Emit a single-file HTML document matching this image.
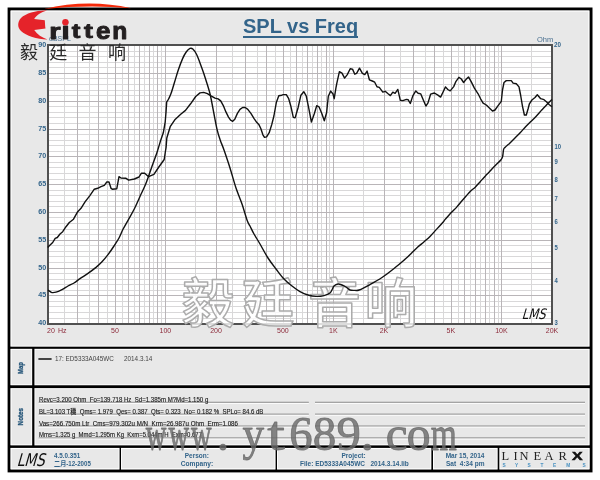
<!DOCTYPE html>
<html><head><meta charset="utf-8"><style>
html,body{margin:0;padding:0;background:#fff;width:600px;height:480px;overflow:hidden}
svg{display:block}
text{font-family:"Liberation Sans","Noto Sans CJK SC",sans-serif}
</style></head><body>
<svg width="600" height="480" viewBox="0 0 600 480">
<rect x="0" y="0" width="600" height="480" fill="#fff"/>
<rect x="9.1" y="9" width="581.9" height="461.9" fill="#e8e8e8" stroke="#000" stroke-width="3"/>
<g fill="none" stroke="#fff" stroke-width="1">
<rect x="11.1" y="11.1" width="577.7" height="335.1"/>
<rect x="11.1" y="349.3" width="20.7" height="35.5"/>
<rect x="34.9" y="349.3" width="554" height="35.5"/>
<rect x="11.1" y="388.6" width="20.7" height="56.3"/>
<rect x="34.9" y="388.6" width="554" height="56.3"/>
<rect x="11.1" y="448.5" width="108" height="20.3"/>
<rect x="121.3" y="448.5" width="153.8" height="20.3"/>
<rect x="277.5" y="448.5" width="153.4" height="20.3"/>
<rect x="433.5" y="448.5" width="63.7" height="20.3"/>
<rect x="499.8" y="448.5" width="89.2" height="20.3"/>
</g>
<g fill="#000">
<rect x="9" y="346.7" width="582" height="2.1"/>
<rect x="9" y="385.3" width="582" height="2.8"/>
<rect x="9" y="445.4" width="582" height="2.5"/>
<rect x="32.2" y="347" width="2.2" height="99"/>
<rect x="119.6" y="446" width="1.4" height="24"/>
<rect x="275.6" y="446" width="1.4" height="24"/>
<rect x="431.4" y="446" width="1.6" height="24"/>
<rect x="497.7" y="446" width="1.6" height="24"/>
</g>

<!-- plot -->
<rect x="48" y="45" width="504" height="279" fill="#fff"/>
<path d="M64.5 45V324 M89.5 45V324 M107.5 45V324 M122.5 45V324 M134.5 45V324 M144.5 45V324 M153.5 45V324 M161.5 45V324 M195.5 45V324 M232.5 45V324 M257.5 45V324 M275.5 45V324 M290.5 45V324 M302.5 45V324 M312.5 45V324 M321.5 45V324 M329.5 45V324 M363.5 45V324 M400.5 45V324 M425.5 45V324 M443.5 45V324 M458.5 45V324 M470.5 45V324 M480.5 45V324 M489.5 45V324 M498.5 45V324 M531.5 45V324 M48 318.5H552 M48 312.5H552 M48 306.5H552 M48 301.5H552 M48 290.5H552 M48 284.5H552 M48 279.5H552 M48 273.5H552 M48 262.5H552 M48 256.5H552 M48 251.5H552 M48 245.5H552 M48 234.5H552 M48 229.5H552 M48 223.5H552 M48 217.5H552 M48 206.5H552 M48 201.5H552 M48 195.5H552 M48 190.5H552 M48 179.5H552 M48 173.5H552 M48 167.5H552 M48 162.5H552 M48 151.5H552 M48 145.5H552 M48 140.5H552 M48 134.5H552 M48 123.5H552 M48 117.5H552 M48 112.5H552 M48 106.5H552 M48 95.5H552 M48 90.5H552 M48 84.5H552 M48 78.5H552 M48 67.5H552 M48 62.5H552 M48 56.5H552 M48 51.5H552" stroke="#d9d8d9" stroke-width="1" fill="none"/>
<path d="M77.5 45V324 M98.5 45V324 M115.5 45V324 M128.5 45V324 M139.5 45V324 M149.5 45V324 M157.5 45V324 M165.5 45V324 M216.5 45V324 M245.5 45V324 M266.5 45V324 M283.5 45V324 M296.5 45V324 M307.5 45V324 M317.5 45V324 M326.5 45V324 M333.5 45V324 M384.5 45V324 M413.5 45V324 M434.5 45V324 M451.5 45V324 M464.5 45V324 M475.5 45V324 M485.5 45V324 M494.5 45V324 M501.5 45V324 M48 295.5H552 M48 268.5H552 M48 240.5H552 M48 212.5H552 M48 184.5H552 M48 156.5H552 M48 129.5H552 M48 101.5H552 M48 73.5H552" stroke="#b9b5b8" stroke-width="1" fill="none"/>

<rect x="48" y="45" width="504" height="279" fill="none" stroke="#505050" stroke-width="2"/>

<!-- watermark chinese -->
<g fill="rgba(255,255,255,0.8)" stroke="#acacac" stroke-width="1.5" stroke-linejoin="round" font-size="53" font-weight="500" style="font-family:'Liberation Serif','Noto Serif CJK SC',serif" text-anchor="middle">
<text x="208" y="323">毅</text><text x="268" y="323">廷</text><text x="334.5" y="323">音</text><text x="391" y="323">响</text>
</g>
<g fill="#33648a" font-size="7.4" font-weight="bold" text-anchor="end"><text transform="translate(46.3 325.2) scale(0.97 1)">40</text><text transform="translate(46.3 297.4) scale(0.97 1)">45</text><text transform="translate(46.3 269.6) scale(0.97 1)">50</text><text transform="translate(46.3 241.8) scale(0.97 1)">55</text><text transform="translate(46.3 214.0) scale(0.97 1)">60</text><text transform="translate(46.3 186.2) scale(0.97 1)">65</text><text transform="translate(46.3 158.4) scale(0.97 1)">70</text><text transform="translate(46.3 130.6) scale(0.97 1)">75</text><text transform="translate(46.3 102.8) scale(0.97 1)">80</text><text transform="translate(46.3 75.0) scale(0.97 1)">85</text><text transform="translate(46.3 47.2) scale(0.97 1)">90</text></g>
<g fill="#33648a" font-size="7.4" font-weight="bold"><text transform="translate(554.4 325.2) scale(0.8 1)">3</text><text transform="translate(554.4 283.0) scale(0.8 1)">4</text><text transform="translate(554.4 250.3) scale(0.8 1)">5</text><text transform="translate(554.4 223.6) scale(0.8 1)">6</text><text transform="translate(554.4 201.0) scale(0.8 1)">7</text><text transform="translate(554.4 181.5) scale(0.8 1)">8</text><text transform="translate(554.4 164.2) scale(0.8 1)">9</text><text transform="translate(554.4 148.8) scale(0.8 1)">10</text><text transform="translate(554 46.8) scale(0.85 1)">20</text></g>
<text x="537" y="41.8" fill="#4a7090" font-size="7.5">Ohm</text>
<g fill="#8c2a3a" font-size="7" text-anchor="middle"><text x="114.9" y="332.5">50</text><text x="165.4" y="332.5">100</text><text x="216.0" y="332.5">200</text><text x="282.9" y="332.5">500</text><text x="333.4" y="332.5">1K</text><text x="384.0" y="332.5">2K</text><text x="450.9" y="332.5">5K</text><text x="501.4" y="332.5">10K</text><text x="552.0" y="332.5">20K</text></g>
<text x="47" y="332.5" fill="#8c2a3a" font-size="7">20</text>
<text x="58" y="332.5" fill="#8c2a3a" font-size="7">Hz</text>

<!-- curves -->
<path d="M48.0 290.0 C48.3 290.2 49.3 291.0 50.0 291.4 C50.7 291.8 51.0 292.5 52.0 292.6 C53.0 292.7 54.3 292.7 56.0 292.2 C57.7 291.7 60.0 290.6 62.0 289.6 C64.0 288.6 66.0 287.1 68.0 286.0 C70.0 284.9 72.0 284.2 74.0 283.0 C76.0 281.8 77.7 280.2 80.0 278.6 C82.3 277.0 85.3 275.3 88.0 273.4 C90.7 271.5 93.7 269.3 96.0 267.4 C98.3 265.4 100.0 263.8 102.0 261.7 C104.0 259.6 106.0 257.2 108.0 254.6 C110.0 252.0 112.2 248.8 114.0 246.0 C115.8 243.2 117.5 240.8 119.0 238.0 C120.5 235.2 121.4 232.5 123.0 229.3 C124.6 226.2 126.8 222.5 128.7 219.1 C130.6 215.7 132.5 212.6 134.4 208.8 C136.3 205.0 138.2 200.4 140.1 196.2 C142.0 192.0 144.0 188.4 145.9 183.6 C147.8 178.8 149.7 172.8 151.6 167.5 C153.5 162.2 155.8 156.1 157.3 151.5 C158.8 146.9 160.2 141.9 160.8 140.0 L160.8 140.0 L163.3 132.8 L165.2 122.0 L166.1 111.0 L166.7 102.0 L166.7 102.0 C167.0 101.5 168.0 100.1 168.7 98.7 C169.4 97.3 170.0 96.4 171.0 93.6 C172.0 90.8 173.4 85.9 174.6 82.0 C175.8 78.1 176.9 74.2 178.2 70.3 C179.5 66.4 181.3 61.6 182.6 58.6 C183.9 55.6 185.0 53.7 186.2 52.0 C187.4 50.3 188.9 48.9 190.0 48.4 C191.1 47.9 191.7 48.0 192.8 49.0 C193.9 50.0 195.3 51.9 196.5 54.2 C197.7 56.5 198.8 59.8 200.0 63.0 C201.2 66.2 202.5 69.6 203.7 73.2 C204.9 76.8 206.3 81.2 207.4 84.8 C208.5 88.4 209.2 90.1 210.3 95.0 C211.4 99.9 212.9 108.2 214.0 114.0 C215.1 119.8 216.1 125.3 217.1 129.6 C218.1 133.9 219.0 136.6 220.2 140.0 C221.3 143.4 222.4 145.3 224.0 150.0 C225.6 154.7 228.0 161.7 230.0 168.0 C232.0 174.3 234.0 182.0 236.0 188.0 C238.0 194.0 240.2 198.7 242.0 204.0 C243.8 209.3 245.7 216.3 247.0 220.0 C248.3 223.7 248.8 223.7 250.0 226.0 C251.2 228.3 252.3 231.0 254.0 234.0 C255.7 237.0 257.7 240.0 260.0 244.0 C262.3 248.0 265.3 253.8 268.0 258.0 C270.7 262.2 273.3 265.5 276.0 269.0 C278.7 272.5 281.3 276.2 284.0 279.0 C286.7 281.8 289.3 283.9 292.0 286.0 C294.7 288.1 297.3 290.1 300.0 291.6 C302.7 293.1 305.3 294.2 308.0 295.0 C310.7 295.8 313.3 296.3 316.0 296.4 C318.7 296.5 321.7 296.2 324.0 295.6 C326.3 295.0 328.6 294.1 330.0 293.0 C331.4 291.9 331.7 290.2 332.4 289.0 C333.1 287.8 333.1 286.8 334.0 286.0 C334.9 285.2 336.7 284.2 338.0 284.0 C339.3 283.8 340.7 284.5 342.0 285.0 C343.3 285.5 344.7 286.2 346.0 287.0 C347.3 287.8 348.5 289.4 350.0 290.0 C351.5 290.6 353.5 290.4 355.0 290.4 C356.5 290.4 356.8 290.9 359.2 290.0 C361.6 289.1 365.8 286.9 369.6 284.8 C373.4 282.7 377.8 280.3 382.0 277.5 C386.2 274.7 390.8 271.0 394.6 268.0 C398.4 265.0 402.2 261.7 405.0 259.3 C407.8 256.9 409.2 255.5 411.2 253.5 C413.3 251.5 415.4 249.2 417.5 247.3 C419.6 245.4 421.7 243.8 423.8 242.0 C425.8 240.2 427.9 238.5 430.0 236.4 C432.1 234.3 434.2 231.9 436.2 229.6 C438.3 227.3 441.0 224.5 442.5 222.8 C444.0 221.1 443.7 221.2 445.2 219.4 C446.7 217.7 449.6 214.4 451.5 212.3 C453.4 210.2 454.8 209.2 456.7 207.1 C458.6 205.0 460.6 202.4 462.9 199.8 C465.1 197.2 468.2 193.6 470.2 191.5 C472.2 189.4 473.3 189.0 475.0 187.4 C476.7 185.8 478.5 183.6 480.2 181.7 C481.9 179.8 484.0 177.4 485.4 175.9 C486.8 174.4 487.4 173.9 488.5 172.8 C489.6 171.7 490.5 170.5 491.7 169.2 C492.9 167.9 494.2 166.6 495.8 165.0 C497.4 163.4 499.9 161.2 501.0 159.8 C502.1 158.4 502.2 158.4 502.6 156.7 C503.0 155.0 503.2 151.0 503.6 149.4 C504.0 147.8 504.1 148.4 505.2 147.3 C506.3 146.2 508.3 144.5 510.0 142.9 C511.7 141.3 513.5 139.4 515.2 137.7 C516.9 136.0 518.7 134.3 520.4 132.5 C522.1 130.7 523.9 128.6 525.6 126.8 C527.3 125.0 529.1 123.3 530.8 121.6 C532.5 119.9 534.3 118.2 536.0 116.4 C537.7 114.6 539.5 112.5 541.2 110.6 C543.0 108.7 544.7 106.8 546.5 104.9 C548.3 103.0 551.1 100.3 552.0 99.4" stroke="#111" stroke-width="1.4" fill="none" stroke-linejoin="round"/>
<path d="M47.7 247.5 L49.3 245.8 L52.7 242.5 L55.2 238.3 L57.3 237.5 L60.0 234.0 L62.7 231.7 L66.0 226.7 L69.3 222.5 L73.5 219.2 L77.7 211.7 L81.0 208.3 L85.2 201.7 L89.7 195.8 L94.3 189.2 L97.7 188.3 L101.0 186.7 L104.3 185.3 L106.8 182.0 L109.0 182.0 L111.0 188.3 L112.3 189.2 L116.8 188.7 L119.0 176.7 L121.0 178.0 L126.0 178.3 L128.7 180.1 L134.4 179.0 L139.0 177.0 L141.3 173.3 L144.7 173.3 L148.6 176.7 L153.9 174.4 L158.5 167.5 L164.2 159.5 L165.4 151.5 L166.1 147.3 L166.8 138.0 L170.2 126.7 L174.8 119.8 L181.0 114.0 L185.5 110.4 L190.6 103.8 L195.7 96.5 L200.0 92.9 L203.7 92.4 L207.4 93.6 L211.0 95.8 L215.0 98.1 L218.1 98.9 L220.7 100.9 L223.3 105.6 L225.9 111.9 L228.5 117.1 L230.6 120.2 L232.7 121.3 L234.8 119.2 L237.4 113.4 L240.0 109.3 L242.6 107.5 L245.2 107.5 L247.8 109.3 L250.9 113.4 L254.1 118.6 L256.7 122.3 L258.8 124.4 L260.8 128.5 L262.9 134.8 L264.5 137.4 L266.6 136.9 L269.2 132.7 L271.8 124.4 L273.9 116.0 L276.4 102.2 L278.8 95.8 L281.7 95.2 L283.4 94.6 L286.3 94.6 L288.7 98.7 L291.0 106.8 L293.3 117.3 L295.1 117.9 L298.0 108.0 L300.9 95.2 L303.8 91.7 L306.2 95.8 L308.5 106.8 L311.4 122.0 L314.3 113.8 L316.7 105.7 L319.0 106.8 L321.9 113.8 L324.3 120.8 L326.6 112.7 L328.3 96.3 L330.7 91.1 L333.0 94.0 L334.2 98.7 L335.9 88.2 L336.8 83.3 L339.4 71.7 L342.0 73.1 L344.6 78.1 L347.3 74.6 L350.2 68.8 L352.5 69.1 L354.8 74.2 L356.6 73.4 L359.5 68.2 L362.4 73.4 L364.8 74.6 L367.1 71.1 L369.4 79.8 L372.3 81.0 L374.7 82.2 L377.0 86.8 L379.3 87.4 L382.8 92.1 L385.2 91.3 L388.1 93.8 L390.4 95.6 L392.8 92.1 L395.1 93.3 L397.8 89.4 L400.3 100.3 L402.9 100.6 L406.4 99.4 L408.2 99.8 L410.3 103.5 L412.8 95.9 L415.8 90.9 L418.1 93.2 L420.8 93.9 L423.3 100.0 L425.9 106.1 L428.0 102.9 L430.6 94.2 L434.4 93.0 L437.9 95.1 L440.6 97.1 L443.2 91.8 L445.5 86.9 L447.8 89.5 L450.2 90.9 L453.7 86.6 L456.0 81.3 L458.9 77.3 L461.3 79.0 L463.6 82.5 L465.9 79.6 L468.5 76.9 L471.3 81.9 L474.4 88.1 L478.1 93.8 L480.6 98.8 L483.1 103.1 L486.3 105.0 L489.4 108.1 L492.5 111.0 L495.0 110.0 L498.1 105.6 L501.3 101.3 L502.5 90.0 L504.0 82.5 L506.3 80.6 L511.3 80.6 L513.1 83.1 L516.3 83.8 L519.0 86.9 L520.6 95.0 L522.5 106.3 L524.4 115.0 L526.3 115.0 L528.1 108.8 L529.4 103.8 L531.9 100.0 L535.0 97.5 L537.3 94.7 L540.7 98.7 L544.0 99.7 L546.7 102.0 L549.3 104.7 L552.0 106.7" stroke="#111" stroke-width="1.4" fill="none" stroke-linejoin="round"/>

<!-- LMS in plot -->
<text x="0" y="0" fill="#111" font-size="14.5" transform="translate(521.5 318.6) skewX(-16) scale(0.8 1)" style="font-family:'DejaVu Sans',sans-serif">LMS</text>

<!-- title -->
<text x="300.6" y="33.4" fill="#33648a" font-size="20" font-weight="bold" text-anchor="middle">SPL vs Freq</text>
<rect x="243" y="36" width="115" height="2" fill="#33648a"/>

<text x="49" y="41" fill="#4a7090" font-size="7">dBSPL</text>
<!-- logo -->
<path d="M44.2,9 Q88,-1.5 131,8.2 Q88,4.5 44.2,9 Z" fill="#f52a0a"/>
<path d="M47,10.6 C38,10 26,13 21,18 C17.3,22 17.3,27.5 21,31 C26,36 37,39 47.5,39.5 C42,37.5 37,34.5 34.2,30 L45.5,28.6 C45,25.5 45,23 44.8,20.2 L34.2,19.1 C36,15.5 41,12.5 47,10.6 Z" fill="#e5232a"/>
<text transform="matrix(1.2430 0 0 0.9600 49.32 38.75)" font-size="23.5" font-weight="bold" style="font-family:'Liberation Sans',sans-serif" fill="#231f20" stroke="#231f20" stroke-width="1.0" stroke-linejoin="round">r</text><text transform="matrix(1.2406 0 0 0.9826 61.44 38.60)" font-size="23.5" font-weight="bold" style="font-family:'Liberation Sans',sans-serif" fill="#231f20" stroke="#231f20" stroke-width="1.0" stroke-linejoin="round">i</text><text transform="matrix(1.1032 0 0 0.8303 71.68 38.23)" font-size="23.5" font-weight="bold" style="font-family:'Liberation Sans',sans-serif" fill="#231f20" stroke="#231f20" stroke-width="1.0" stroke-linejoin="round">t</text><text transform="matrix(1.1376 0 0 0.8303 83.92 38.23)" font-size="23.5" font-weight="bold" style="font-family:'Liberation Sans',sans-serif" fill="#231f20" stroke="#231f20" stroke-width="1.0" stroke-linejoin="round">t</text><text transform="matrix(1.1015 0 0 1.0097 95.99 38.87)" font-size="23.5" font-weight="bold" style="font-family:'Liberation Sans',sans-serif" fill="#231f20" stroke="#231f20" stroke-width="1.0" stroke-linejoin="round">e</text><text transform="matrix(1.0486 0 0 0.9797 112.18 38.50)" font-size="23.5" font-weight="bold" style="font-family:'Liberation Sans',sans-serif" fill="#231f20" stroke="#231f20" stroke-width="1.0" stroke-linejoin="round">n</text>
<circle cx="65.4" cy="22.2" r="3.2" fill="#e5232a"/>
<text x="20" y="59.3" fill="#2a2a2a" font-size="18" letter-spacing="11.3" style="font-family:'Liberation Sans','Noto Sans CJK SC',sans-serif">毅廷音响</text>

<!-- map -->
<text transform="translate(23.4 368) rotate(-90)" fill="#245478" stroke="#245478" stroke-width="0.3" font-size="6.6" font-weight="bold" text-anchor="middle" textLength="12" lengthAdjust="spacingAndGlyphs">Map</text>
<rect x="38.4" y="358" width="13.2" height="2" fill="#444"/>
<g fill="#444" font-size="6.5">
<text x="55" y="361.2" textLength="58.8" lengthAdjust="spacingAndGlyphs" xml:space="preserve">17: ED5333A045WC</text>
<text x="124" y="361.2" textLength="28.3" lengthAdjust="spacingAndGlyphs" xml:space="preserve">2014.3.14</text>
</g>

<!-- notes -->
<text transform="translate(23.4 416.7) rotate(-90)" fill="#245478" stroke="#245478" stroke-width="0.3" font-size="6.6" font-weight="bold" text-anchor="middle" textLength="17.4" lengthAdjust="spacingAndGlyphs">Notes</text>
<path d="M38.7 402.3H308.8M315 402.3H585M38.7 414.2H308.8M315 414.2H585M38.7 426.1H308.8M315 426.1H585M38.7 438H308.8M315 438H585" stroke="#777" stroke-width="1" fill="none"/>
<path d="M38.7 403.3H308.8M315 403.3H585M38.7 415.2H308.8M315 415.2H585M38.7 427.1H308.8M315 427.1H585M38.7 439H308.8M315 439H585" stroke="#fff" stroke-width="1" fill="none"/>
<g fill="#1e1e1e" font-size="6.5" stroke="#1e1e1e" stroke-width="0.15">
<text x="39" y="401.7" textLength="169.3" lengthAdjust="spacingAndGlyphs" xml:space="preserve">Revc=3.200 Ohm  Fo=139.718 Hz  Sd=1.385m M?Md=1.150 g</text>
<text x="39" y="413.6" textLength="224.4" lengthAdjust="spacingAndGlyphs" xml:space="preserve">BL=3.103 T穖  Qms= 1.979  Qes= 0.387  Qts= 0.323  No= 0.182 %  SPLo= 84.6 dB</text>
<text x="39" y="425.5" textLength="199" lengthAdjust="spacingAndGlyphs" xml:space="preserve">Vas=266.750m Ltr  Cms=979.302u M/N  Krm=26.987u Ohm  Erm=1.086</text>
<text x="39" y="437.4" textLength="163" lengthAdjust="spacingAndGlyphs" xml:space="preserve">Mms=1.325 g  Mmd=1.295m Kg  Kxm=5.044m H  Exm=0.677</text>
</g>

<!-- footer -->
<text x="0" y="0" fill="#111" font-size="17.5" transform="translate(16.5 465.6) skewX(-16) scale(0.78 1)" style="font-family:'DejaVu Sans',sans-serif">LMS</text>
<g fill="#33648a" font-size="6.6" font-weight="bold">
<text x="54" y="457.6" textLength="26.2" lengthAdjust="spacingAndGlyphs" xml:space="preserve">4.5.0.351</text>
<text x="54" y="466.1" textLength="36.8" lengthAdjust="spacingAndGlyphs" xml:space="preserve">二月-12-2005</text>
<text x="184.7" y="457.6" textLength="24.2" lengthAdjust="spacingAndGlyphs" xml:space="preserve">Person:</text>
<text x="180.7" y="466.1" textLength="32.5" lengthAdjust="spacingAndGlyphs" xml:space="preserve">Company:</text>
<text x="341.4" y="457.6" textLength="24.2" lengthAdjust="spacingAndGlyphs" xml:space="preserve">Project:</text>
<text x="300" y="466.1" textLength="108.8" lengthAdjust="spacingAndGlyphs" xml:space="preserve">File: ED5333A045WC   2014.3.14.lib</text>
<text x="445.7" y="457.6" textLength="38.8" lengthAdjust="spacingAndGlyphs" xml:space="preserve">Mar 15, 2014</text>
<text x="446" y="466.1" textLength="38.5" lengthAdjust="spacingAndGlyphs" xml:space="preserve">Sat  4:34 pm</text>
</g>
<text y="460" fill="#222" font-size="12.5" style="font-family:'Liberation Serif',serif"><tspan x="501.5">L</tspan><tspan x="513.5">I</tspan><tspan x="519.5">N</tspan><tspan x="533.5">E</tspan><tspan x="544.5">A</tspan><tspan x="558.5">R</tspan></text>
<text x="0" y="0" transform="translate(572 460.2) scale(1.35 1)" fill="#111" font-size="11.8" font-weight="bold" stroke="#111" stroke-width="0.5">X</text>
<g fill="#4a92c2" font-size="4.8" font-weight="bold" text-anchor="middle"><text x="504" y="466.9">S</text><text x="516.5" y="466.9">Y</text><text x="529.2" y="466.9">S</text><text x="542" y="466.9">T</text><text x="554.7" y="466.9">E</text><text x="568.2" y="466.9">M</text><text x="584" y="466.9">S</text></g>

<!-- watermark url -->
<text transform="matrix(0.5958 0 0 1.0000 145.72 450.00)" font-size="48" style="font-family:'Liberation Serif',serif" fill="rgba(105,105,105,0.8)" stroke="rgba(105,105,105,0.8)" stroke-width="0.9" stroke-linejoin="round">w</text><text transform="matrix(0.5929 0 0 1.0000 168.42 450.00)" font-size="48" style="font-family:'Liberation Serif',serif" fill="rgba(105,105,105,0.8)" stroke="rgba(105,105,105,0.8)" stroke-width="0.9" stroke-linejoin="round">w</text><text transform="matrix(0.5929 0 0 1.0000 191.12 450.00)" font-size="48" style="font-family:'Liberation Serif',serif" fill="rgba(105,105,105,0.8)" stroke="rgba(105,105,105,0.8)" stroke-width="0.9" stroke-linejoin="round">w</text><text transform="matrix(1.0755 0 0 1.0000 216.55 450.00)" font-size="48" style="font-family:'Liberation Serif',serif" fill="rgba(105,105,105,0.8)" stroke="rgba(105,105,105,0.8)" stroke-width="0.9" stroke-linejoin="round">.</text><text transform="matrix(0.8998 0 0 1.0000 242.42 450.00)" font-size="48" style="font-family:'Liberation Serif',serif" fill="rgba(105,105,105,0.8)" stroke="rgba(105,105,105,0.8)" stroke-width="0.9" stroke-linejoin="round">y</text><text transform="matrix(1.3189 0 0 1.0000 267.33 450.00)" font-size="48" style="font-family:'Liberation Serif',serif" fill="rgba(105,105,105,0.8)" stroke="rgba(105,105,105,0.8)" stroke-width="0.9" stroke-linejoin="round">t</text><text transform="matrix(0.9752 0 0 1.0000 289.24 450.00)" font-size="48" style="font-family:'Liberation Serif',serif" fill="rgba(105,105,105,0.8)" stroke="rgba(105,105,105,0.8)" stroke-width="0.9" stroke-linejoin="round">6</text><text transform="matrix(0.9782 0 0 1.0000 312.86 450.00)" font-size="48" style="font-family:'Liberation Serif',serif" fill="rgba(105,105,105,0.8)" stroke="rgba(105,105,105,0.8)" stroke-width="0.9" stroke-linejoin="round">8</text><text transform="matrix(1.0154 0 0 1.0000 336.38 450.00)" font-size="48" style="font-family:'Liberation Serif',serif" fill="rgba(105,105,105,0.8)" stroke="rgba(105,105,105,0.8)" stroke-width="0.9" stroke-linejoin="round">9</text><text transform="matrix(1.2165 0 0 1.0000 360.10 450.00)" font-size="48" style="font-family:'Liberation Serif',serif" fill="rgba(105,105,105,0.8)" stroke="rgba(105,105,105,0.8)" stroke-width="0.9" stroke-linejoin="round">.</text><text transform="matrix(1.0222 0 0 1.0000 385.68 450.00)" font-size="48" style="font-family:'Liberation Serif',serif" fill="rgba(105,105,105,0.8)" stroke="rgba(105,105,105,0.8)" stroke-width="0.9" stroke-linejoin="round">c</text><text transform="matrix(0.9929 0 0 1.0000 406.83 450.00)" font-size="48" style="font-family:'Liberation Serif',serif" fill="rgba(105,105,105,0.8)" stroke="rgba(105,105,105,0.8)" stroke-width="0.9" stroke-linejoin="round">o</text><text transform="matrix(0.6971 0 0 1.0000 430.85 450.00)" font-size="48" style="font-family:'Liberation Serif',serif" fill="rgba(105,105,105,0.8)" stroke="rgba(105,105,105,0.8)" stroke-width="0.9" stroke-linejoin="round">m</text>
</svg>
</body></html>
